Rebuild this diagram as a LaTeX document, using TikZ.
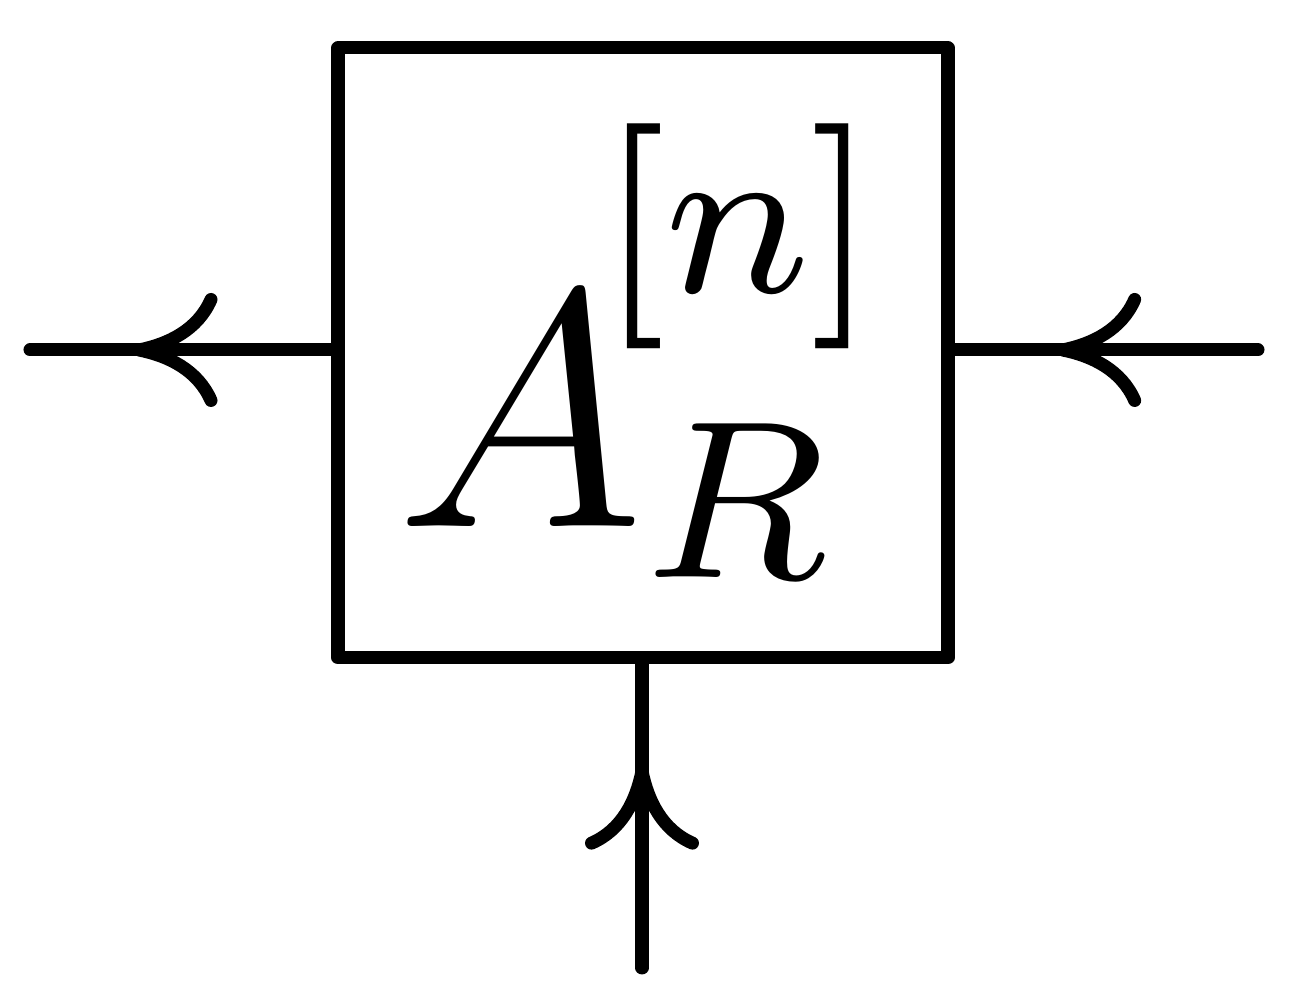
\documentclass[tikz,border=0pt]{standalone}
\usepackage{graphicx}
\usetikzlibrary{arrows.meta,positioning,decorations.markings}

\begin{document}
\begin{tikzpicture}[line width=3.7pt, line cap=round, line join=round,
  flow/.style={postaction={decorate},
    decoration={markings, mark=at position #1 with {\arrow{To[length=8.5mm,width=11.4mm]}}}}]
  \useasboundingbox (0,0) rectangle (12.92,10);

  \node (box) [draw, minimum size=6.1cm, inner sep=0pt] at (6.43,6.47) {};
  \node (label) [anchor=base west, inner sep=0pt] at ([shift={(-2.53,-1.74)}]box.center)
    {\scalebox{8}{\fontsize{12}{14}\selectfont
      $A^{\kern-1.6pt\smash{\raisebox{3.98pt}{$\scriptstyle[n]$}}}_{\smash{\raisebox{1.16pt}{$\scriptstyle R$}}}$}};

  \coordinate (west) at (0.30,6.50);
  \coordinate (east) at (12.58,6.50);
  \coordinate (south) at (6.42,0.32);

  \draw[flow=0.66] (box.west |- west) -- (west);
  \draw[flow=0.665] (east) -- (box.east |- east);
  \draw[flow=0.67] (south) -- (box.south -| south);
\end{tikzpicture}
\end{document}
